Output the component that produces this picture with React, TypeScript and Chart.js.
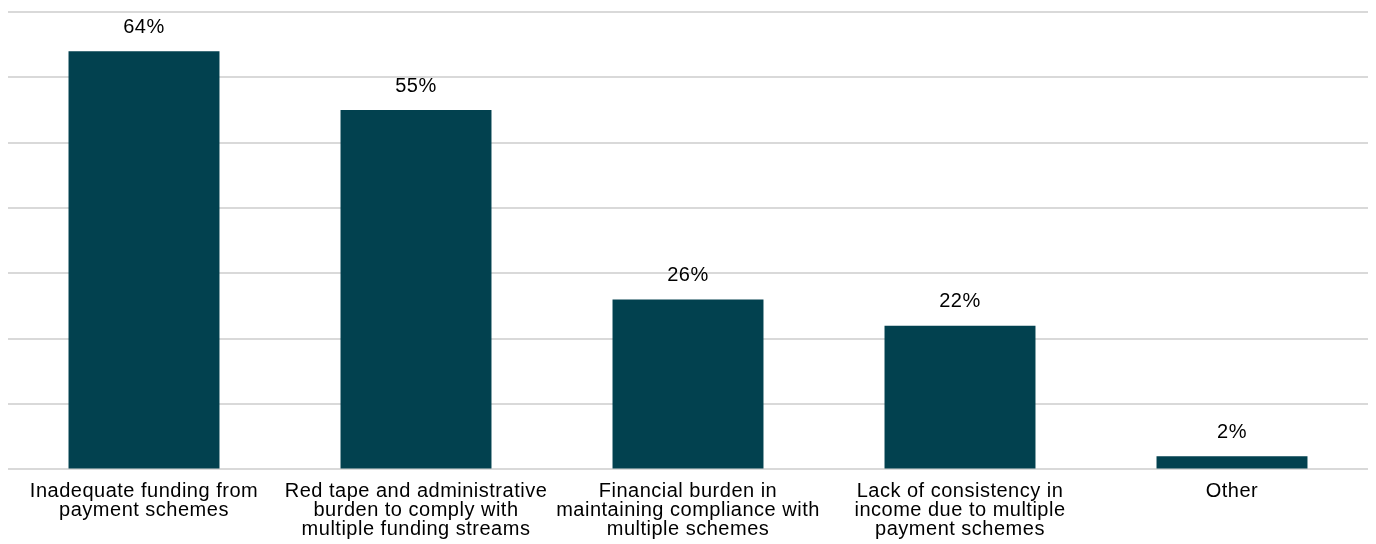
import React, { useEffect, useRef } from "react";
import { Chart, registerables } from "chart.js";

Chart.register(...registerables);

const categories: (string | string[])[] = [
  ["Inadequate funding from", "payment schemes"],
  ["Red tape and administrative", "burden to comply with", "multiple funding streams"],
  ["Financial burden in", "maintaining compliance with", "multiple schemes"],
  ["Lack of consistency in", "income due to multiple", "payment schemes"],
  "Other",
];
const values: number[] = [64, 55, 26, 22, 2];
const yMax = 70;
const yStep = 10;

const FONT = "'Liberation Sans', Arial, sans-serif";

const letterSpacing = {
  id: "letterSpacing",
  beforeDraw(chart: any) {
    (chart.ctx as any).letterSpacing = "0.5px";
  },
  afterDraw(chart: any) {
    (chart.ctx as any).letterSpacing = "0px";
  },
};

const valueLabels = {
  id: "valueLabels",
  afterDatasetsDraw(chart: any) {
    const ctx = chart.ctx;
    const meta = chart.getDatasetMeta(0);
    ctx.save();
    ctx.font = `20px ${FONT}`;
    ctx.fillStyle = "#000000";
    ctx.textAlign = "center";
    ctx.textBaseline = "middle";
    meta.data.forEach((bar: any, i: number) => {
      ctx.fillText(`${values[i]}%`, bar.x, bar.y - 24);
    });
    ctx.restore();
  },
};

export default function App() {
  const ref = useRef<HTMLCanvasElement>(null);
  useEffect(() => {
    if (!ref.current) return;
    const chart = new Chart(ref.current, {
      type: "bar",
      data: {
        labels: categories,
        datasets: [
          {
            data: values,
            backgroundColor: "#02414F",
            categoryPercentage: 1,
            barPercentage: 0.555,
          },
        ],
      },
      options: {
        animation: false,
        responsive: true,
        maintainAspectRatio: false,
        layout: { padding: { left: 8, right: 8, top: 12, bottom: -7 } },
        plugins: {
          legend: { display: false },
          tooltip: { enabled: false },
        },
        scales: {
          x: {
            grid: { display: false, drawTicks: false },
            border: { display: false },
            ticks: {
              color: "#000000",
              font: { family: FONT, size: 20, lineHeight: 0.96 },
              padding: 12,
              maxRotation: 0,
              autoSkip: false,
            },
          },
          y: {
            min: 0,
            max: yMax,
            grid: { color: "#d9d9d9", lineWidth: 2, drawTicks: false },
            border: { display: false },
            ticks: { display: false, stepSize: yStep },
          },
        },
      },
      plugins: [letterSpacing, valueLabels],
    });
    return () => chart.destroy();
  }, []);
  return (
    <div style={{ position: "fixed", left: 0, top: 0, width: 1376, height: 544, background: "#fff" }}>
      <canvas ref={ref} />
    </div>
  );
}
